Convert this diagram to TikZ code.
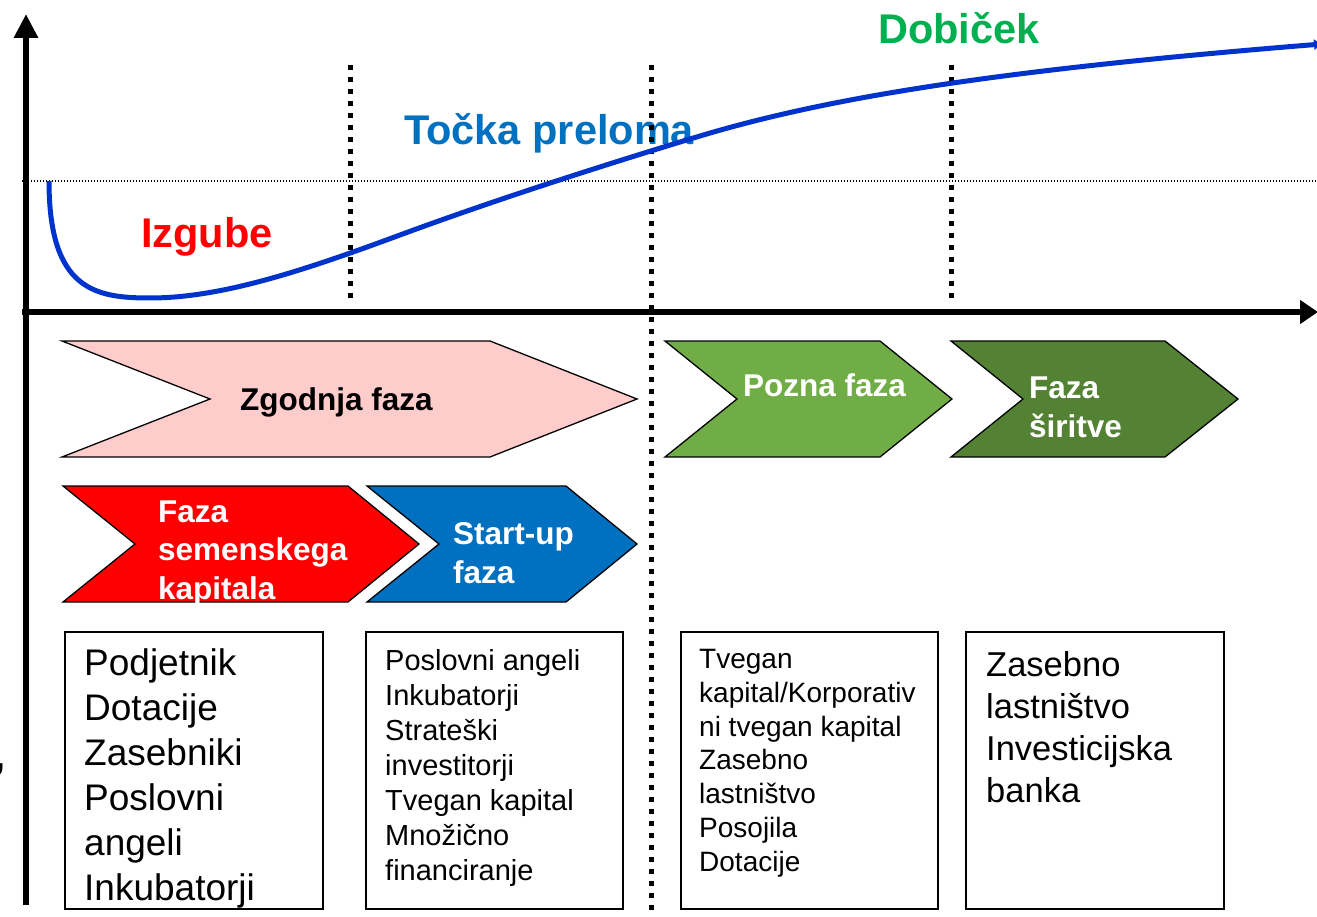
\documentclass[tikz,border=0pt]{standalone}
\usepackage{fontspec}
\setmainfont{Liberation Sans}
\usetikzlibrary{arrows.meta}
\definecolor{pinkfill}{HTML}{FFCCCC}
\definecolor{redfill}{HTML}{FF0000}
\definecolor{bluefill}{HTML}{0070C0}
\definecolor{greenfill}{HTML}{70AD47}
\definecolor{dgreenfill}{HTML}{548235}
\definecolor{curveblue}{HTML}{0033CC}
\definecolor{profitgreen}{HTML}{00B050}
\begin{document}
\begin{tikzpicture}[x=1pt,y=-1pt,
  axisline/.style={line width=6pt},
  vdots/.style={line width=5pt, dash pattern=on 5pt off 7pt},
  thindots/.style={line width=1.2pt, dash pattern=on 1.3pt off 1.7pt},
  chev/.style={draw=black, line width=1.3pt, line join=miter},
  lbl/.style={inner sep=0pt, anchor=base west, align=left},
  big/.style={lbl, font=\fontsize{41.5}{50}\selectfont\bfseries},
  chevtext/.style={lbl, text=white, font=\fontsize{31.5}{38.5}\selectfont\bfseries},
  box/.style={draw=black, line width=1.5pt, anchor=north west, inner sep=0pt, minimum width=258pt, minimum height=277pt},
]
\useasboundingbox (0,0) rectangle (1317,917);

% labels of the graph
\node[big, text=redfill] (izgube) at (141,248) {Izgube};
\node[big, text=bluefill] (tocka) at (404,145) {Točka preloma};
\node[big, text=profitgreen] (dobicek) at (878,44) {Dobiček};

% reference lines
\coordinate (hl) at (22,181);
\coordinate (hr) at (1317,181);
\draw[thindots] (hl) -- (hr);

\coordinate (d1t) at (350,65);  \coordinate (d1b) at (350,302);
\coordinate (d2t) at (651,65);  \coordinate (d2b) at (651,917);
\coordinate (d3t) at (951,65);  \coordinate (d3b) at (951,302);
\draw[vdots] (d1t) -- (d1b);
\draw[vdots] (d2t) -- (d2b);
\draw[vdots] (d3t) -- (d3b);

% axes
\coordinate (o) at (26,905);
\coordinate (ytop) at (26,14);
\coordinate (xl) at (22,312);
\coordinate (xr) at (1318,312);
\draw[axisline, -{Triangle[length=24pt,width=23pt]}] (o) -- (ytop);
\draw[axisline, -{Triangle[length=18pt,width=23pt]}] (xl) -- (xr);

% curve
\coordinate (c0) at (49,181);
\coordinate (c1) at (150,298);
\coordinate (c2) at (400,235);
\coordinate (c3) at (700,136);
\coordinate (c4) at (1322,44);
\draw[curveblue, line width=5pt, -{Triangle[length=8pt,width=10pt]}]
  (c0) .. controls (49,290) and (95,298) .. (c1)
       .. controls (220,298) and (300,272) .. (c2)
       .. controls (500,198) and (620,160) .. (c3)
       .. controls (830,97) and (1000,70) .. (c4);

% chevrons
\draw[chev, fill=pinkfill] (62,341) -- (490,341) -- (637,399) -- (490,457) -- (62,457) -- (210,399) -- cycle;
\node[lbl, font=\fontsize{31.5}{38.5}\selectfont\bfseries] (zgodnja) at (240,410) {Zgodnja faza};

\draw[chev, fill=redfill] (63,486) -- (348,486) -- (419,544) -- (348,602) -- (63,602) -- (135,544) -- cycle;
\node[chevtext] (seme) at (158,599) {Faza\\semenskega\\kapitala};

\draw[chev, fill=bluefill] (367,486) -- (566,486) -- (637,544) -- (566,602) -- (367,602) -- (439,544) -- cycle;
\node[chevtext] (startup) at (453,583) {Start-up\\faza};

\draw[chev, fill=greenfill] (665,341) -- (880,341) -- (952,399) -- (880,457) -- (665,457) -- (737,399) -- cycle;
\node[chevtext] (pozna) at (743,396) {Pozna faza};

\draw[chev, fill=dgreenfill] (951,341) -- (1165,341) -- (1238,399) -- (1165,457) -- (951,457) -- (1023,399) -- cycle;
\node[chevtext] (siritve) at (1029,437) {Faza\\širitve};

% boxes
\node[box] (b1) at (64,631) {};
\node[box, minimum width=257pt] (b2) at (365,631) {};
\node[box, minimum width=257pt] (b3) at (680,631) {};
\node[box] (b4) at (965,631) {};

\node[lbl, font=\fontsize{37}{45}\selectfont] (t1) at (84,900)
  {Podjetnik\\Dotacije\\Zasebniki\\Poslovni\\angeli\\Inkubatorji};
\node[lbl, font=\fontsize{29}{35}\selectfont] (t2) at (385,880)
  {Poslovni angeli\\Inkubatorji\\Strateški\\investitorji\\Tvegan kapital\\Množično\\financiranje};
\node[lbl, font=\fontsize{28}{33.7}\selectfont] (t3) at (699,871)
  {Tvegan\\kapital/Korporativ\\ni tvegan kapital\\Zasebno\\lastništvo\\Posojila\\Dotacije};
\node[lbl, font=\fontsize{34.5}{42}\selectfont] (t4) at (986,802)
  {Zasebno\\lastništvo\\Investicijska\\banka};

% fragment at left edge
\node[lbl, font=\fontsize{45}{50}\selectfont] (frag) at (-6,768) {,};
\end{tikzpicture}
\end{document}
